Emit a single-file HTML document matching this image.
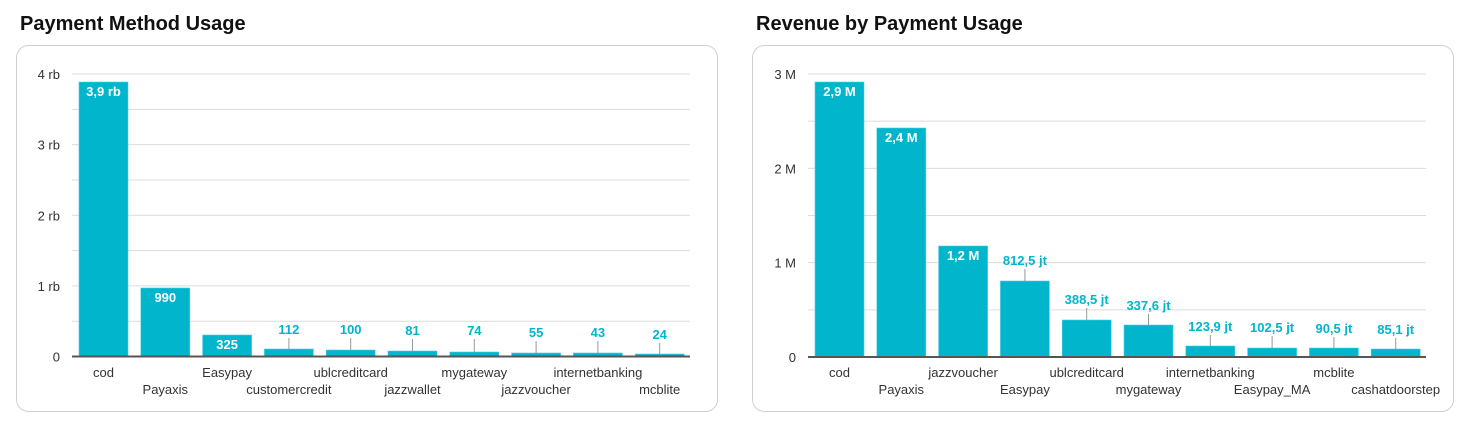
<!DOCTYPE html>
<html><head><meta charset="utf-8"><style>
body{margin:0;background:#fff;width:1470px;height:428px;overflow:hidden;font-family:"Liberation Sans",Arial,sans-serif}
svg{position:absolute;left:0;top:0}
</style></head><body>
<svg id="s" width="1470" height="428" xmlns="http://www.w3.org/2000/svg" font-family="Liberation Sans, Arial, sans-serif"></svg>
<script>
const s=document.getElementById('s');let h='';
h+='<text x="20" y="30" font-size="20" font-weight="bold" fill="#111">Payment Method Usage</text>';
h+='<text x="756" y="30" font-size="20" font-weight="bold" fill="#111">Revenue by Payment Usage</text>';
function panel(px,gx0,gx1,base,top,ticks,bars,labelTop){
 h+=`<rect x="${px+0.5}" y="45.5" width="701" height="366" rx="12" fill="#fff" stroke="#d0d0d0"/>`;
 const n=ticks.length-1, step=(base-top)/n;
 for(let i=0;i<=n*2;i++){const y=base-i*step/2; if(i>0)h+=`<line x1="${gx0}" x2="${gx1}" y1="${y}" y2="${y}" stroke="#dcdcdc"/>`;}
 ticks.forEach((t,i)=>{h+=`<text x="${gx0-12}" y="${base-i*step+5}" font-size="13" fill="#333" text-anchor="end">${t}</text>`});
 const slot=(gx1-gx0)/bars.length;
 bars.forEach((b,i)=>{const x=gx0+7+i*slot,w=49,cx=x+w/2,y=b[1];
  h+=`<rect x="${x}" y="${y}" width="${w}" height="${base-y}" fill="#00b5cc" stroke="#4fd0e0" stroke-width="0.6"/>`;
  if(b[3]){h+=`<text x="${cx}" y="${y+14}" font-size="13" font-weight="bold" fill="#fff" text-anchor="middle">${b[2]}</text>`;}
  else{const ly=b[4]; h+=`<line x1="${cx}" x2="${cx}" y1="${ly+4}" y2="${y}" stroke="#999"/>`;
   h+=`<text x="${cx}" y="${ly}" font-size="13" font-weight="bold" fill="#00b5cc" text-anchor="middle">${b[2]}</text>`;}
  h+=`<text x="${cx}" y="${i%2?394:377}" font-size="13" fill="#333" text-anchor="middle">${b[0]}</text>`;
 });
 h+=`<line x1="${gx0}" x2="${gx1}" y1="${base}" y2="${base}" stroke="#555" stroke-width="2"/>`;
}
panel(16,72,690,356.5,74,['0','1 rb','2 rb','3 rb','4 rb'],[
['cod',82,'3,9 rb',1],['Payaxis',288,'990',1],['Easypay',335,'325',1],
['customercredit',349,'112',0,334],['ublcreditcard',350,'100',0,334],['jazzwallet',351,'81',0,335],
['mygateway',352,'74',0,335],['jazzvoucher',353,'55',0,337],['internetbanking',353,'43',0,337],['mcblite',354,'24',0,339]]);
panel(752,808,1426,357,74,['0','1 M','2 M','3 M'],[
['cod',82,'2,9 M',1],['Payaxis',128,'2,4 M',1],['jazzvoucher',246,'1,2 M',1],['Easypay',281,'812,5 jt',0,265],
['ublcreditcard',320,'388,5 jt',0,304],['mygateway',325,'337,6 jt',0,310],['internetbanking',346,'123,9 jt',0,331],
['Easypay_MA',348,'102,5 jt',0,332],['mcblite',348,'90,5 jt',0,333],['cashatdoorstep',349,'85,1 jt',0,334]]);
s.innerHTML=h;
</script>
</body></html>
